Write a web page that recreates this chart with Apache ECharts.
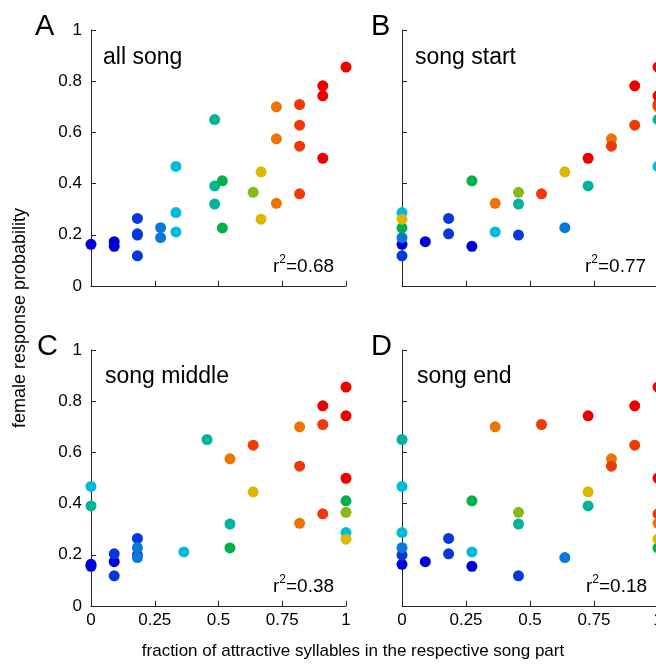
<!DOCTYPE html>
<html><head><meta charset="utf-8">
<script src="https://cdn.jsdelivr.net/npm/echarts@6/dist/echarts.min.js"></script>
<style>html,body{margin:0;padding:0;background:#fff}#c{width:656px;height:665px}</style>
</head><body><div id="c"></div>
<script>
// female response probability of each song (same song across panels)
const songY = [0.163,0.173,0.155,0.264,0.204,0.199,0.118,0.228,0.189,0.467,0.287,0.211,0.650,0.391,0.320,0.411,0.227,0.366,0.446,0.261,0.700,0.575,0.323,0.709,0.628,0.546,0.360,0.782,0.743,0.499,0.855];
// fraction of attractive syllables: all song / start / middle / end
const fracAll    = [0,0.091,0.091,0.182,0.182,0.182,0.182,0.273,0.273,0.333,0.333,0.333,0.485,0.485,0.485,0.515,0.515,0.636,0.667,0.667,0.727,0.727,0.727,0.818,0.818,0.818,0.818,0.909,0.909,0.909,1];
const fracStart  = [0,0.091,0.273,0.182,0.182,0.455,0,0.636,0,1,0,0.364,1,0.727,0.455,0.273,0,0.455,0.636,0,1,0.818,0.364,1,0.909,0.818,0.545,0.909,1,0.727,1];
const fracMiddle = [0,0.091,0,0.182,0.091,0.182,0.091,0.182,0.182,0,1,0.364,0.455,0,0.545,1,0.545,1,0.636,1,0.818,0.545,0.818,0.909,0.636,0.818,0.909,0.909,1,1,1];
const fracEnd    = [0,0.091,0.273,0.182,0.182,0,0.455,0,0.636,0,0,0.273,0,0.727,0.455,0.273,1,0.455,0.727,1,0.364,0.818,1,0.545,0.909,0.818,1,0.909,0.727,1,1];
const panelFracs = [fracAll, fracStart, fracMiddle, fracEnd];
const panelNames = ['all song','song start','song middle','song end'];
const panelLetters = ['A','B','C','D'];
const r2Values = ['0.68','0.77','0.38','0.18'];
const xAxisTitle = 'fraction of attractive syllables in the respective song part';
const yAxisTitle = 'female response probability';

const FONT = '"Liberation Sans", Arial, Helvetica, sans-serif';
const grids = [
  {left:91, top:30, width:255, height:256},
  {left:402, top:30, width:256, height:256},
  {left:91, top:350, width:255, height:256},
  {left:402, top:350, width:256, height:256}
].map(g => Object.assign({containLabel:false, outerBoundsMode:'none'}, g));

const axisLine = {show:true, onZero:false, lineStyle:{color:'#262626', width:1}};
const xAxes = grids.map((g,i) => ({
  type:'value', gridIndex:i, min:0, max:1, interval:0.25,
  axisLine, axisTick:{show:true, inside:true, length:5, lineStyle:{color:'#262626'}},
  splitLine:{show:false},
  axisLabel:{show:i>=2, fontSize:17, fontFamily:FONT, color:'#000', margin:6,
    formatter:v => String(+v.toFixed(2))}
}));
const yAxes = grids.map((g,i) => ({
  type:'value', gridIndex:i, min:0, max:1, interval:0.2,
  axisLine, axisTick:{show:true, inside:true, length:5, lineStyle:{color:'#262626'}},
  splitLine:{show:false},
  axisLabel:{show:i%2===0, fontSize:17, fontFamily:FONT, color:'#000', margin:9,
    formatter:v => String(+v.toFixed(1))}
}));
const series = panelFracs.map((fr,i) => ({
  type:'scatter', xAxisIndex:i, yAxisIndex:i, symbol:'circle', symbolSize:11,
  itemStyle:{opacity:1}, silent:true,
  data: songY.map((y,k) => [fr[k], y, fracAll[k]])
}));

const textStyle = (t, x, y, size, extra) => Object.assign({
  type:'text', x, y, silent:true,
  style:{text:t, font:size+'px '+FONT, fill:'#000', textVerticalAlign:'middle', verticalAlign:'middle'}
}, extra||{});

const graphics = [];
const letterPos = [[35,27],[371,27],[37,347],[371,347]];
const namePos = [[103,58],[415,58],[105,377],[417,377]];
const r2Pos = [[273,265],[585,265],[273,585],[586,585]];
for (let i=0;i<4;i++){
  graphics.push(textStyle(panelLetters[i], letterPos[i][0], letterPos[i][1], 29));
  graphics.push(textStyle(panelNames[i], namePos[i][0], namePos[i][1], 23));
  graphics.push({type:'text', x:r2Pos[i][0], y:r2Pos[i][1], silent:true,
    style:{text:'{a|r}{b|2}{a|=' + r2Values[i] + '}', fill:'#000',
      textVerticalAlign:'middle', verticalAlign:'middle',
      rich:{a:{fontSize:19, fontFamily:FONT, color:'#000', lineHeight:22, verticalAlign:'bottom'},
            b:{fontSize:12, fontFamily:FONT, color:'#000', lineHeight:22, verticalAlign:'top'}}}});
}
graphics.push({type:'text', x:353, y:651, silent:true,
  style:{text:xAxisTitle, font:'17px '+FONT, fill:'#000', textAlign:'center', align:'center', textVerticalAlign:'middle', verticalAlign:'middle'}});
graphics.push({type:'text', x:20, y:318, rotation:Math.PI/2, silent:true,
  style:{text:yAxisTitle, font:'18px '+FONT, fill:'#000', textAlign:'center', align:'center', textVerticalAlign:'middle', verticalAlign:'middle'}});

const chart = echarts.init(document.getElementById('c'), null, {renderer:'canvas'});
chart.setOption({
  animation:false,
  backgroundColor:'#fff',
  grid:grids, xAxis:xAxes, yAxis:yAxes, series,
  visualMap:{type:'piecewise', show:false, dimension:2, seriesIndex:[0,1,2,3],
    pieces:[
      {gte:0,    lt:0.15, color:'#0000d8'},
      {gte:0.15, lt:0.25, color:'#0738dc'},
      {gte:0.25, lt:0.3,  color:'#0a78d8'},
      {gte:0.3,  lt:0.4,  color:'#00bcdc'},
      {gte:0.4,  lt:0.5,  color:'#00b49a'},
      {gte:0.5,  lt:0.6,  color:'#00b04c'},
      {gte:0.6,  lt:0.65, color:'#88b816'},
      {gte:0.65, lt:0.7,  color:'#dcb800'},
      {gte:0.7,  lt:0.78, color:'#ec7400'},
      {gte:0.78, lt:0.86, color:'#ee3a06'},
      {gte:0.86, lte:1,   color:'#ee0000'}
    ]},
  graphic:graphics
});
</script>
</body></html>
